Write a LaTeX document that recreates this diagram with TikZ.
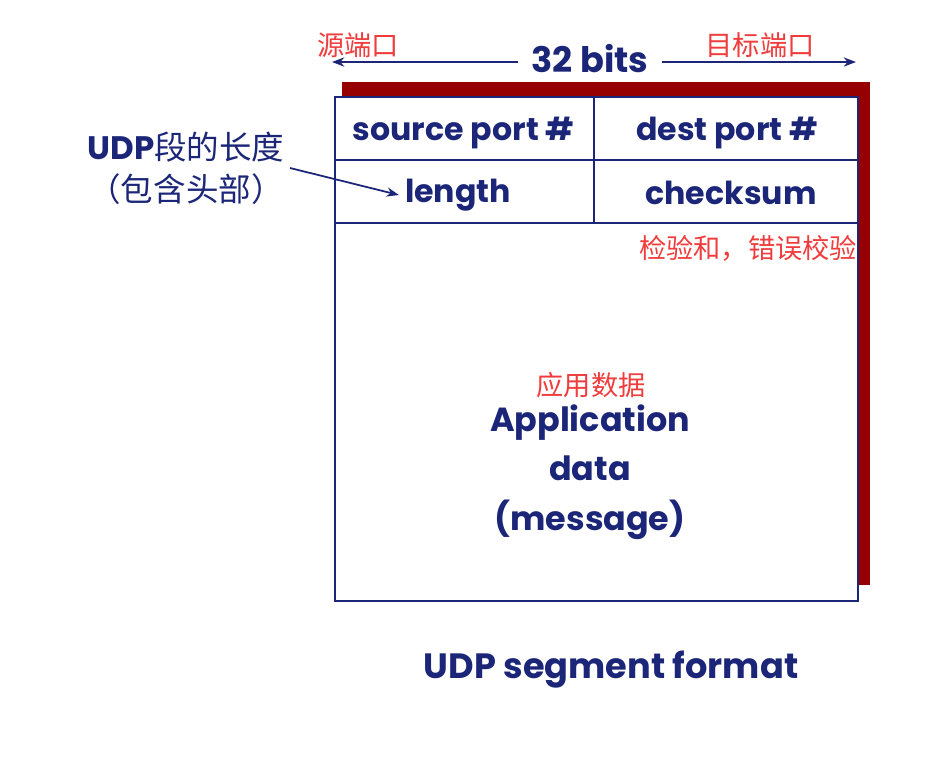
\documentclass[tikz,border=0pt]{standalone}
\usepackage{fontspec}
\setmainfont{Poppins}
\newfontfamily\cjk{Noto Sans CJK SC}
\usepackage{xcolor}
\usetikzlibrary{arrows.meta,positioning}

\definecolor{navy}{RGB}{28,38,120}
\definecolor{shadowred}{RGB}{150,0,0}
\definecolor{notered}{RGB}{240,60,60}

\tikzset{
  field/.style={font=\fontsize{18}{22}\selectfont\bfseries, text=navy},
  note/.style={font=\cjk\fontsize{15.5}{18}\selectfont, text=notered},
  boxline/.style={navy, line width=1.3pt}
}

\begin{document}
\begin{tikzpicture}
    \useasboundingbox[fill=white] (0,0) rectangle (18.92,-15.2);

    % shadow and segment box
    \fill[shadowred] (6.84,-1.64) rectangle (17.4,-11.7);
    \filldraw[boxline, fill=white] (6.7,-1.94) rectangle (17.16,-12.02);
    \draw[boxline] (6.7,-3.2) -- (17.16,-3.2);
    \draw[boxline] (6.7,-4.46) -- (17.16,-4.46);
    \draw[boxline] (11.88,-1.94) -- (11.88,-4.46);

    % header fields
    \node[field] (srcport) at (9.27,-2.66) {source port \#};
    \node[field] (dstport) at (14.54,-2.66) {dest port \#};
    \node[field] (length) at (9.16,-3.9) {length};
    \node[field] (checksum) at (14.62,-3.86) {checksum};

    % payload
    \node[field, align=center, font=\fontsize{19}{28}\selectfont\bfseries] (appdata) at (11.8,-9.44) {Application\\data\\(message)};

    % width arrows
    \node[field, font=\fontsize{20}{24}\selectfont\bfseries] (bits) at (11.8,-1.18) {32 bits};
    \coordinate (leftend) at (6.64,-1.24);
    \coordinate (rightend) at (17.12,-1.24);
    \draw[-{Stealth[length=7pt]}, navy, line width=1pt] (bits.west |- leftend) ++(-0.15,0) -- (leftend);
    \draw[-{Stealth[length=7pt]}, navy, line width=1pt] (bits.east |- rightend) ++(0.15,0) -- (rightend);

    % length label
    \node[align=center, text=navy, font=\cjk\fontsize{18.5}{24}\selectfont] (lenlabel) at (3.72,-3.36) {{\rmfamily\bfseries UDP}段的长度\\（包含头部）};
    \draw[-{Stealth[length=7pt]}, navy, line width=1pt] (5.8,-3.36) -- (length.west);

    % red notes
    \node[note] (srcnote) at (7.16,-0.9) {源端口};
    \node[note] (dstnote) at (15.2,-0.9) {目标端口};
    \node[note] (cknote) at (14.96,-4.96) {检验和，错误校验};
    \node[note] (datanote) at (11.82,-7.7) {应用数据};

    % caption
    \node[field, font=\fontsize{20}{24}\selectfont\bfseries] (caption) at (12.22,-13.4) {UDP segment format};
\end{tikzpicture}
\end{document}
